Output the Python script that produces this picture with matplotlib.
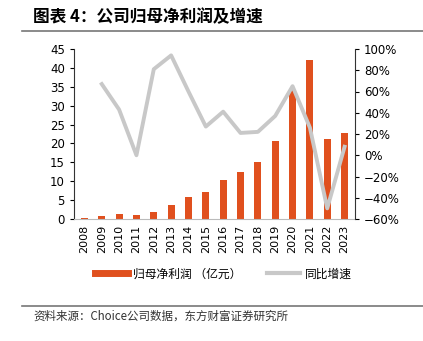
import numpy as np
import matplotlib.pyplot as plt
from matplotlib.lines import Line2D

plt.rcParams['font.family'] = ['Noto Sans CJK SC', 'DejaVu Sans']

years = ['2008', '2009', '2010', '2011', '2012', '2013', '2014', '2015',
         '2016', '2017', '2018', '2019', '2020', '2021', '2022', '2023']
profit = [0.3, 0.7, 1.2, 1.1, 1.9, 3.7, 5.8, 7.2,
          10.3, 12.4, 15.1, 20.7, 34.2, 42.1, 21.2, 22.7]
growth = [np.nan, 67, 43, 0, 81, 94, 60, 27,
          41, 21, 22, 37, 65, 26, -50, 8]

bar_color = '#E0501E'
line_color = '#C8C8C8'

fig = plt.figure(figsize=(4.23, 3.41), dpi=100)
ax = fig.add_axes([74/423, 1-219/341, (355-74)/423, 170/341])
x = np.arange(len(years))
ax.bar(x, profit, width=0.4, color=bar_color, zorder=2)
ax.set_ylim(0, 45)
ax.set_yticks(range(0, 46, 5))
ax.set_xlim(-0.6, len(years) - 0.4)
ax.set_xticks(x)
ax.set_xticklabels(years, rotation=90, fontsize=8, family='DejaVu Sans')
ax.tick_params(axis='x', length=0, pad=4)
ax.tick_params(axis='y', labelsize=8.5, length=3, direction='out', width=0.8)
for lab in ax.get_yticklabels():
    lab.set_family('DejaVu Sans')
ax.spines['top'].set_visible(False)
ax.spines['right'].set_visible(False)
ax.spines['bottom'].set_color('#BBBBBB')
ax.spines['left'].set_color('#333333')

ax2 = ax.twinx()
ax2.plot(x, growth, color=line_color, lw=2.8, zorder=3)
ax2.set_ylim(-60, 100)
ax2.set_yticks(range(-60, 101, 20))
ax2.set_yticklabels([f'{v}%'.replace('-', '\u2212') for v in range(-60, 101, 20)],
                    fontsize=8.5, family='DejaVu Sans')
ax2.tick_params(axis='y', length=3, direction='out', width=0.8)
ax2.spines['top'].set_visible(False)
ax2.spines['left'].set_visible(False)
ax2.spines['bottom'].set_visible(False)
ax2.spines['right'].set_color('#333333')

handles = [Line2D([0], [0], color=bar_color, lw=5),
           Line2D([0], [0], color=line_color, lw=3)]
fig.legend(handles, ['归母净利润 （亿元）', '同比增速'], loc='center',
           bbox_to_anchor=(0.528, 1-274/341), ncol=2, frameon=False,
           fontsize=8.5, handlelength=2.8, columnspacing=2.2, handletextpad=0.4)

fig.text(33/423, 1-17/341, '图表 4：公司归母净利润及增速', fontsize=12,
         fontweight='bold', va='center', ha='left')
fig.add_artist(Line2D([22/423, 1], [1-30.5/341, 1-30.5/341], color='#777777', lw=1.2))
fig.add_artist(Line2D([22/423, 1], [1-305.5/341, 1-305.5/341], color='#777777', lw=1.2))
fig.text(33/423, 1-316/341, '资料来源：Choice公司数据，东方财富证券研究所',
         fontsize=8.3, va='center', ha='left', color='#333333')

fig.savefig('out.png', dpi=100)
